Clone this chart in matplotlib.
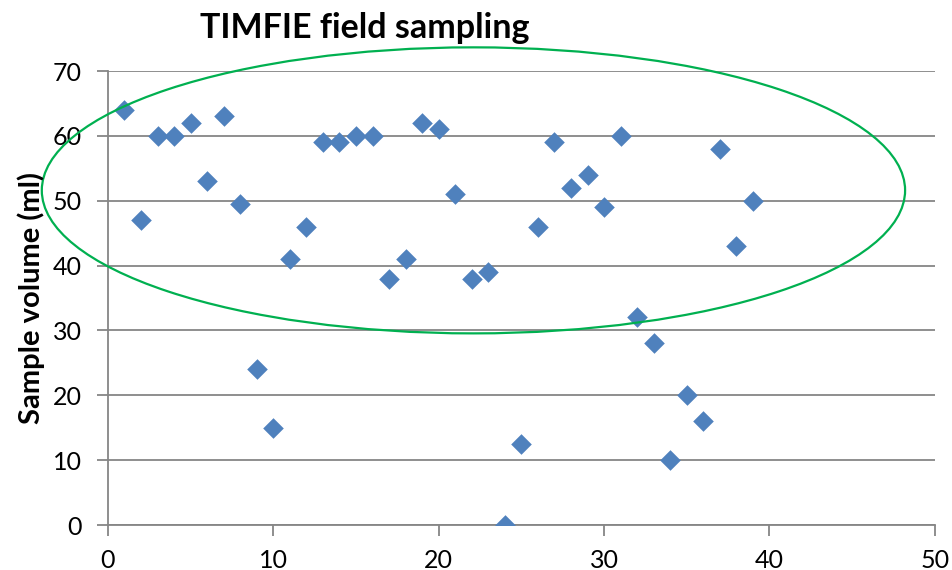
import matplotlib
matplotlib.use("Agg")
import matplotlib.pyplot as plt
from matplotlib.patches import Ellipse

# sample number and collected volume (ml)
sample_no = list(range(1, 40))
volume_ml = [64, 47, 60, 60, 62, 53, 63, 49.5, 24, 15,
             41, 46, 59, 59, 60, 60, 38, 41, 62, 61,
             51, 38, 39, 0, 12.5, 46, 59, 52, 54, 49,
             60, 32, 28, 10, 20, 16, 58, 43, 50]

# highlight ellipse (data units)
ell_center = (22.1, 51.6)
ell_width = 52.2
ell_height = 44.1

plt.rcParams['font.family'] = ['Lato', 'DejaVu Sans']

fig = plt.figure(figsize=(9.52, 5.7), dpi=100)
ax = fig.add_axes([0.1134, 0.0789, 0.8686, 0.7965])

ax.scatter(sample_no, volume_ml, marker='D', s=110, color='#4F81BD',
           linewidths=0, zorder=3)

ell = Ellipse(ell_center, ell_width, ell_height, fill=False,
              edgecolor='#00B050', linewidth=1.6, clip_on=False, zorder=4)
ax.add_patch(ell)

ax.set_xlim(0, 50)
ax.set_ylim(0, 70)
ax.set_xticks(range(0, 51, 10))
ax.set_yticks(range(0, 71, 10))
ax.yaxis.grid(True, color='#868686', linewidth=1.3)
ax.set_axisbelow(True)

for side in ['top', 'right']:
    ax.spines[side].set_visible(False)
for side in ['left', 'bottom']:
    ax.spines[side].set_color('#868686')
    ax.spines[side].set_linewidth(1.3)
ax.tick_params(axis='both', direction='out', length=8, width=1.3,
               color='#868686', labelsize=18, labelcolor='black')
ax.tick_params(axis='y', pad=11)
ax.tick_params(axis='x', pad=9)

# y label and title placed in figure coordinates
fig.text(31 / 952, 0.4772, 'Sample volume (ml)', fontsize=21, fontweight='bold',
         rotation=90, ha='center', va='center')
fig.text(0.383, 0.951, 'TIMFIE field sampling', fontsize=24.5, fontweight='bold',
         ha='center', va='center')

fig.savefig('out.png', dpi=100)
